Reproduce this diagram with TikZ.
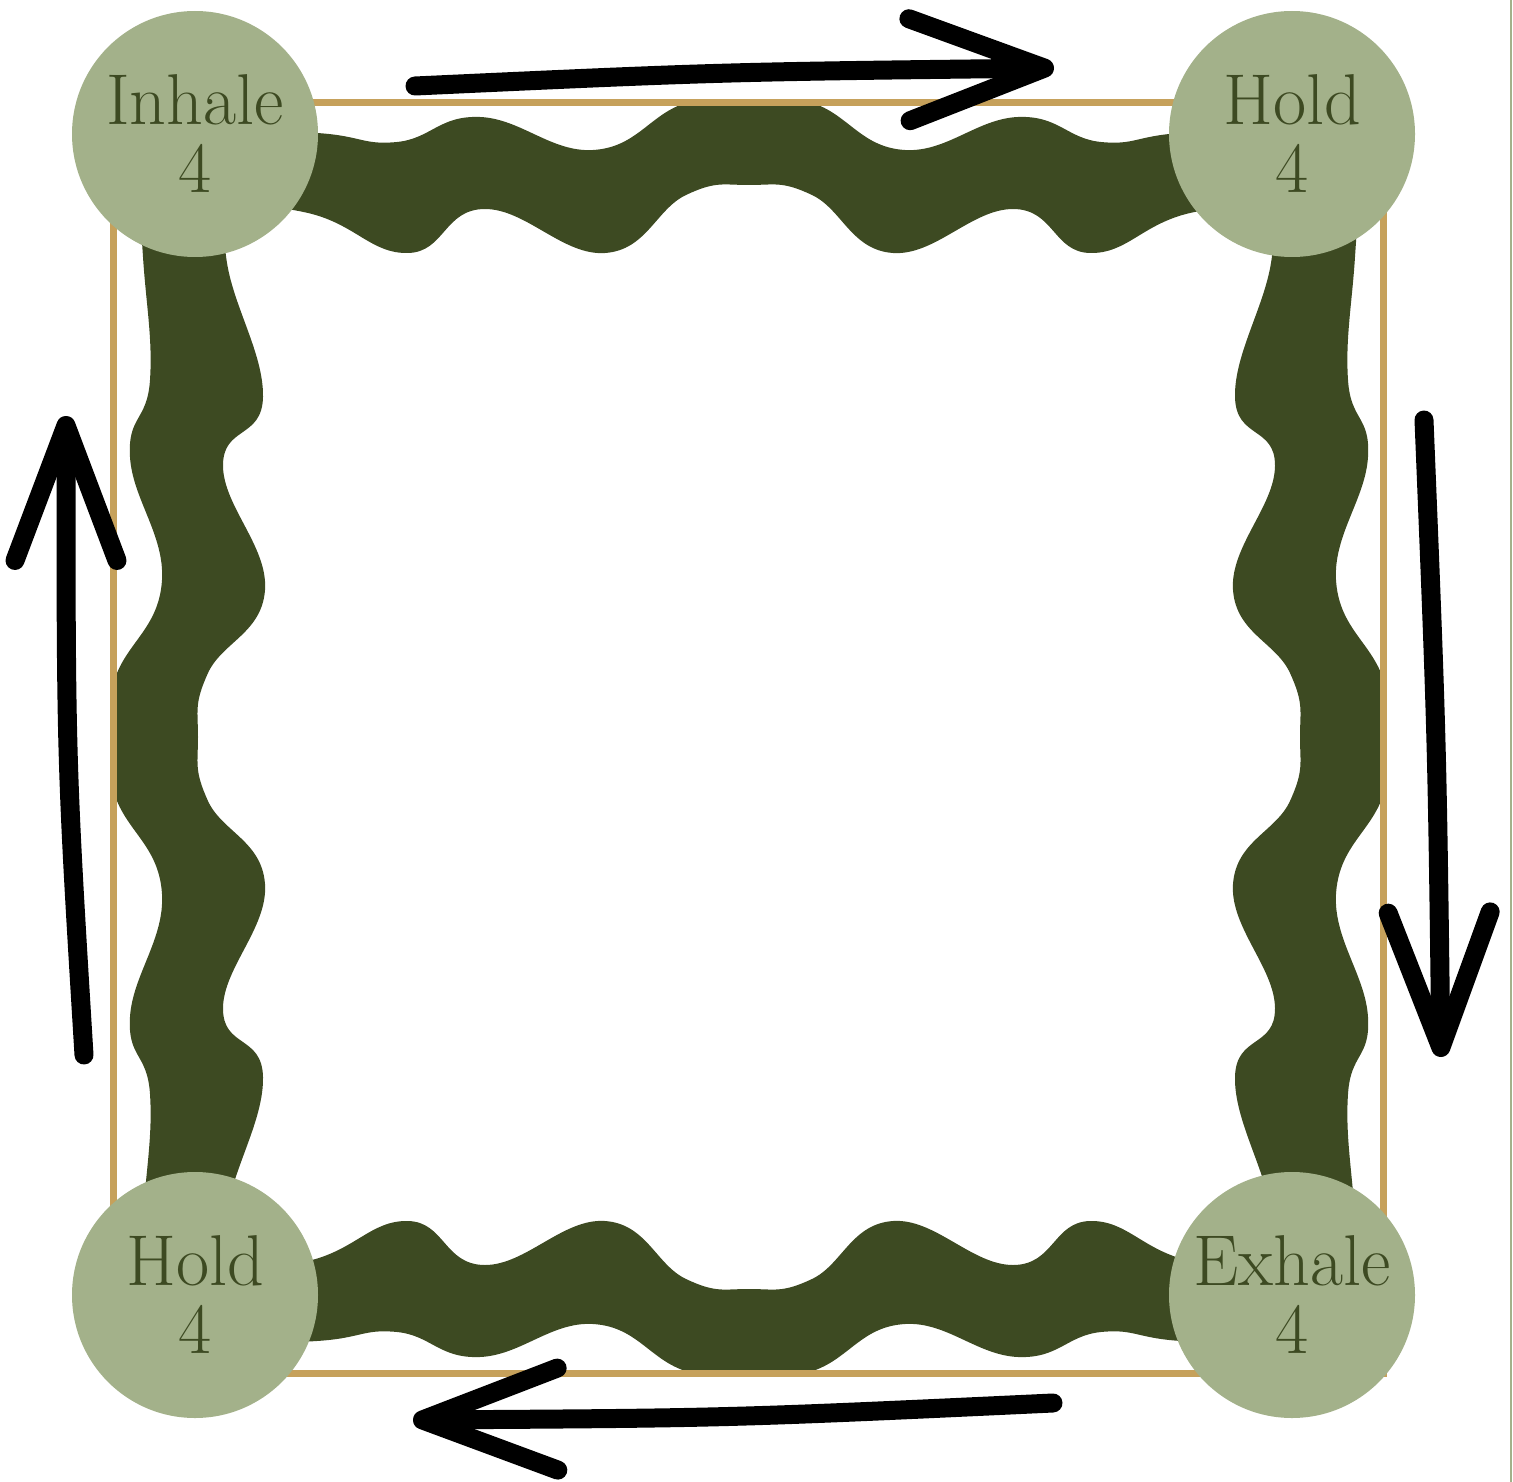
\documentclass[tikz,border=0pt]{standalone}
\usepackage{fontspec}
\usetikzlibrary{arrows.meta}

\definecolor{moss}{HTML}{3D4A22}
\definecolor{sage}{HTML}{A3B18A}
\definecolor{ochre}{HTML}{C6A15B}

% one wavy band along the top, one along the left (mirrored for the others)
\newcommand\topband{plot[smooth, tension=0.75] coordinates {(180,128) (317,133) (397,142) (480,117) (593,150) (680,105) (749,86) (818,105) (905,150) (1018,117) (1101,142) (1181,133) (1318,128)}
  -- plot[smooth, tension=0.75] coordinates {(1320,200) (1190,213) (1090,253) (1013,209) (893,253) (812,195) (749,185) (686,195) (605,253) (485,209) (408,253) (308,213) (180,200)} -- cycle}
\newcommand\sideband{plot[smooth, tension=0.75] coordinates {(135,150) (143,257) (150,380) (130,457) (162,580) (117,673) (97,737) (117,801) (162,894) (130,1017) (150,1094) (143,1217) (135,1324)}
  -- plot[smooth, tension=0.75] coordinates {(228,1294) (227,1211) (263,1077) (223,1008) (265,884) (208,801) (198,737) (208,673) (265,590) (223,466) (263,397) (227,263) (228,180)} -- cycle}

\begin{document}
\begin{tikzpicture}[x=1pt, y=-1pt,
  phase/.style={circle, fill=sage, text=moss, minimum size=246pt, inner sep=0pt,
    align=center, font=\fontsize{72}{68}\selectfont},
  brush/.style={line width=19pt, line cap=round,
    -{Straight Barb[length=135pt, width=102pt, round]}}]
  \useasboundingbox (0,0) rectangle (1513,1482);

  % wavy ring, kept inside the frame
  \begin{scope}
    \clip (116,106) rectangle (1380,1370);
    \fill[moss] \topband;
    \fill[moss] \sideband;
    \begin{scope}[cm={1,0,0,-1,(0,1474)}]
      \fill[moss] \topband;
    \end{scope}
    \begin{scope}[cm={-1,0,0,1,(1498,0)}]
      \fill[moss] \sideband;
    \end{scope}
  \end{scope}

  % frame
  \draw[ochre, line width=7pt] (113,103) rectangle (1383,1373);
  \draw[sage, line width=1.5pt] (1511,0) -- (1511,1482);

  % the four phases
  \node[phase] (inhale) at (195,134) {Inhale\\4};
  \node[phase] (holdin) at (1292,134) {Hold\\4};
  \node[phase] (exhale) at (1292,1295) {Exhale\\4};
  \node[phase] (holdout) at (195,1295) {Hold\\4};

  % arrows round the square
  \coordinate (topA) at (415,86);
  \coordinate (topB) at (1054,68);
  \coordinate (rightA) at (1424,420);
  \coordinate (rightB) at (1441,1057);
  \coordinate (botA) at (1053,1403);
  \coordinate (botB) at (413,1420);
  \coordinate (leftA) at (84,1055);
  \coordinate (leftB) at (66,416);

  \draw[brush] (topA) .. controls (720,72) .. (topB);
  \draw[brush] (rightA) .. controls (1437,740) .. (rightB);
  \draw[brush] (botA) .. controls (730,1418) .. (botB);
  \draw[brush] (leftA) .. controls (66,760) .. (leftB);
\end{tikzpicture}
\end{document}
